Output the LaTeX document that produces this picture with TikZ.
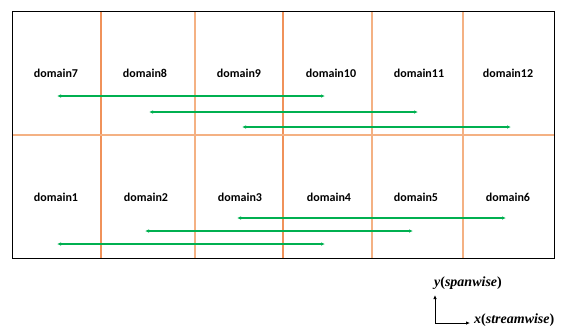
\documentclass[tikz,border=0pt]{standalone}
\usepackage{fontspec}
\setmainfont{Carlito}
\newfontfamily\axisfont{Liberation Serif}
\usetikzlibrary{arrows.meta}
\definecolor{gridorange}{HTML}{F0925A}
\definecolor{gridpeach}{HTML}{F4B183}
\definecolor{swapgreen}{HTML}{00B050}
\tikzset{
  domainname/.style={font=\bfseries\fontsize{12}{14}\selectfont},
  axisname/.style={font={\axisfont\fontsize{14}{17}\selectfont\bfseries}},
  transfer/.style={swapgreen, line width=1.1pt, {Latex[length=4pt,width=3.5pt]}-{Latex[length=4pt,width=3.5pt]}},
  axisarrow/.style={black, line width=0.8pt, -{Latex[length=4pt,width=3.5pt]}}
}
\begin{document}
\begin{tikzpicture}[x=1pt,y=-1pt]
\useasboundingbox (0,0) rectangle (567,325);
% grid of the twelve domains
\draw[gridorange, line width=1.1pt] (101,11) -- (101,258);
\draw[gridpeach, line width=1.4pt] (195,11) -- (195,258);
\draw[gridorange, line width=1.1pt] (283,11) -- (283,258);
\draw[gridpeach, line width=1.4pt] (372,11) -- (372,258);
\draw[gridpeach, line width=1.4pt] (463,11) -- (463,258);
\draw[gridpeach, line width=1.4pt] (12,135) -- (554,135);
\draw[black, line width=0.9pt] (12,11) rectangle (554,258);
% upper row
\node[domainname] (d7) at (56,73) {domain7};
\node[domainname] (d8) at (145,73) {domain8};
\node[domainname] (d9) at (239,73) {domain9};
\node[domainname] (d10) at (331,73) {domain10};
\node[domainname] (d11) at (419,73) {domain11};
\node[domainname] (d12) at (508,73) {domain12};
% lower row
\node[domainname] (d1) at (56,197) {domain1};
\node[domainname] (d2) at (146,197) {domain2};
\node[domainname] (d3) at (240,197) {domain3};
\node[domainname] (d4) at (329,197) {domain4};
\node[domainname] (d5) at (416,197) {domain5};
\node[domainname] (d6) at (508,197) {domain6};
% exchange arrows, upper row
\coordinate (ua1) at (57,96);   \coordinate (ub1) at (325,96);
\coordinate (ua2) at (149,112); \coordinate (ub2) at (418,112);
\coordinate (ua3) at (242,127); \coordinate (ub3) at (511,127);
\draw[transfer] (ua1) -- (ub1);
\draw[transfer] (ua2) -- (ub2);
\draw[transfer] (ua3) -- (ub3);
% exchange arrows, lower row
\coordinate (la1) at (237,218); \coordinate (lb1) at (506,218);
\coordinate (la2) at (145,231); \coordinate (lb2) at (413,231);
\coordinate (la3) at (57,244);  \coordinate (lb3) at (325,244);
\draw[transfer] (la1) -- (lb1);
\draw[transfer] (la2) -- (lb2);
\draw[transfer] (la3) -- (lb3);
% axes
\coordinate (o) at (435,323);
\coordinate (ytip) at (435,295);
\coordinate (xtip) at (470,323);
\draw[axisarrow] (o) -- (ytip);
\draw[axisarrow] (o) -- (xtip);
\node[axisname] (ylab) at (468,283) {\itshape y\upshape(\itshape spanwise\upshape)};
\node[axisname, anchor=west, inner sep=0pt] (xlab) at (474,320) {\itshape x\upshape(\itshape streamwise\upshape)};
\end{tikzpicture}
\end{document}
